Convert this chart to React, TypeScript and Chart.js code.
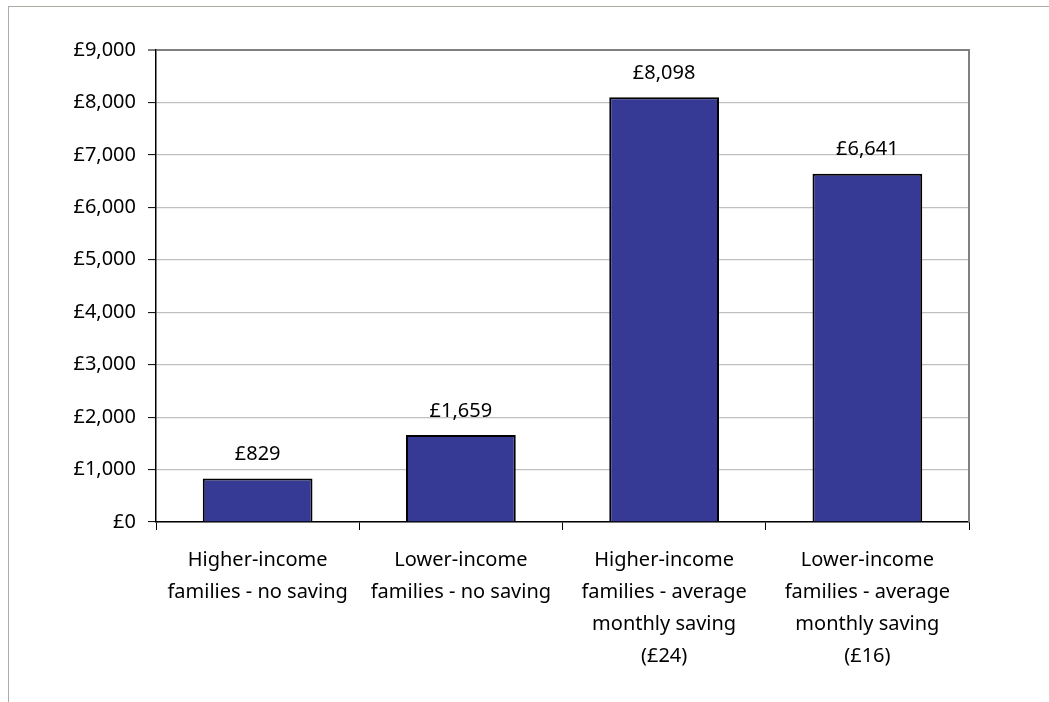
import React, { useEffect, useRef } from "react";
import { Chart, registerables } from "chart.js";

Chart.register(...registerables);

const categories: string[][] = [
  ["Higher-income", "families - no saving"],
  ["Lower-income", "families - no saving"],
  ["Higher-income", "families - average", "monthly saving", "(£24)"],
  ["Lower-income", "families - average", "monthly saving", "(£16)"],
];
const values: number[] = [829, 1659, 8098, 6641];
const yMin = 0;
const yMax = 9000;
const yStep = 1000;

const FONT = "'Noto Sans', 'Open Sans', sans-serif";
const fmt = (v: number) => "£" + v.toLocaleString("en-GB");

const valueLabels = {
  id: "valueLabels",
  afterDatasetsDraw(chart: any) {
    const ctx = chart.ctx;
    const meta = chart.getDatasetMeta(0);
    ctx.save();
    ctx.font = `20px ${FONT}`;
    ctx.fillStyle = "#000";
    ctx.textAlign = "center";
    ctx.textBaseline = "middle";
    meta.data.forEach((bar: any, i: number) => {
      ctx.fillText(fmt(values[i]), bar.x, bar.y - 24);
    });
    ctx.restore();
  },
};

const rightBorder = {
  id: "rightBorder",
  afterDraw(chart: any) {
    const { ctx, chartArea } = chart;
    ctx.save();
    ctx.strokeStyle = "#808080";
    ctx.lineWidth = 2;
    ctx.beginPath();
    ctx.moveTo(chartArea.right, chartArea.top - 1);
    ctx.lineTo(chartArea.right, chartArea.bottom);
    ctx.stroke();
    ctx.restore();
  },
};

export default function App() {
  const ref = useRef<HTMLCanvasElement | null>(null);
  useEffect(() => {
    if (!ref.current) return;
    const chart = new Chart(ref.current, {
      type: "bar",
      data: {
        labels: categories,
        datasets: [
          {
            data: values,
            backgroundColor: "#373a94",
            borderColor: "#000000",
            borderWidth: 2,
            barPercentage: 0.54,
            categoryPercentage: 1,
          },
        ],
      },
      options: {
        animation: false,
        responsive: false,
        maintainAspectRatio: false,
        layout: { padding: { left: 0, top: 50, right: 80, bottom: 0 } },
        plugins: {
          legend: { display: false },
          tooltip: { enabled: false },
        },
        scales: {
          x: {
            grid: {
              offset: true,
              drawOnChartArea: false,
              drawTicks: true,
              tickLength: 8,
              tickColor: "#000",
              tickWidth: 1,
            },
            border: { color: "#000", width: 1.5 },
            ticks: {
              color: "#000",
              font: { family: FONT, size: 20, lineHeight: 1.6 },
              padding: 14,
              maxRotation: 0,
              autoSkip: false,
            },
            afterFit(scale: any) {
              scale.height = 702 - 522;
            },
          },
          y: {
            min: yMin,
            max: yMax,
            grid: {
              color: (c: any) => (c.tick && c.tick.value === yMax ? "#808080" : "#c0c0c0"),
              lineWidth: (c: any) => (c.tick && c.tick.value === yMax ? 2 : 1.2),
              tickLength: 8,
              tickColor: "#000",
              tickWidth: 1,
            },
            border: { color: "#000", width: 1.5 },
            ticks: {
              stepSize: yStep,
              color: "#000",
              font: { family: FONT, size: 20 },
              padding: 12,
              callback: (v: any) => fmt(Number(v)),
            },
            afterFit(scale: any) {
              scale.width = 156;
            },
          },
        },
      },
      plugins: [valueLabels, rightBorder],
    });
    return () => chart.destroy();
  }, []);

  return (
    <div style={{ position: "fixed", left: 0, top: 0, width: 1049, height: 702, background: "#fff" }}>
      <div
        style={{
          position: "absolute",
          left: 8,
          top: 6,
          width: 1049 - 8,
          height: 702 - 6,
          borderTop: "1.5px solid #b0aaa4",
          borderLeft: "1.5px solid #b0aaa4",
          boxSizing: "border-box",
        }}
      />
      <canvas ref={ref} width={1049} height={702} style={{ position: "absolute", left: 0, top: 0 }} />
    </div>
  );
}
